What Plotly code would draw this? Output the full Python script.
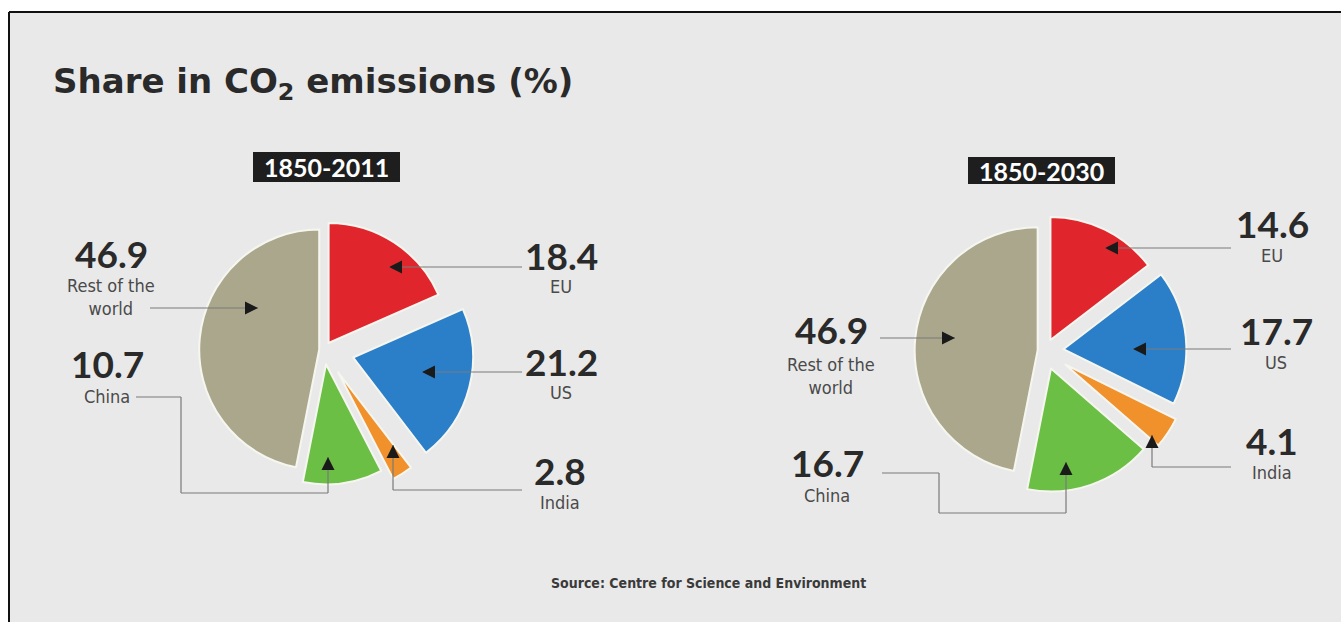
import plotly.graph_objects as go

W, H = 1341, 622

# data
regions = ['EU', 'US', 'India', 'China', 'Rest of the world']
share_1850_2011 = [18.4, 21.2, 2.8, 10.7, 46.9]
share_1850_2030 = [14.6, 17.7, 4.1, 16.7, 46.9]
periods = ['1850-2011', '1850-2030']
region_labels = ['EU', 'US', 'India', 'China', 'Rest of the<br>world']

colors = ['#e0262c', '#2b7fc9', '#f0912b', '#6cbf45', '#aba78c']
pull_2011 = [0.07, 0.25, 0.22, 0.12, 0.04]
pull_2030 = [0.10, 0.15, 0.20, 0.15, 0.06]

NUM_FONT = 'Lato, Noto Sans, sans-serif'
TITLE_FONT = 'DejaVu Sans, Noto Sans, sans-serif'
SUB_FONT = 'Liberation Sans Narrow, DejaVu Sans Condensed, Roboto, sans-serif'


def px(x):
    return x / W


def py(y):
    return 1 - y / H


def pie_domain(cx, cy, r, pulls):
    half = r * (1 + max(pulls))
    return dict(x=[px(cx - half), px(cx + half)], y=[py(cy + half), py(cy - half)])


def text(x, y, s, font, **kw):
    return dict(x=px(x), y=py(y), xref='paper', yref='paper', text=s, showarrow=False,
                xanchor=kw.pop('xanchor', 'center'), yanchor='middle', font=font, **kw)


fig = go.Figure()

for vals, pulls, (cx, cy, r) in [(share_1850_2011, pull_2011, (324, 350, 120)),
                                 (share_1850_2030, pull_2030, (1045, 351, 123))]:
    fig.add_trace(go.Pie(
        labels=regions, values=vals, sort=False, direction='clockwise', rotation=0,
        pull=pulls, textinfo='none', hoverinfo='label+value', showlegend=False,
        marker=dict(colors=colors, line=dict(color='#f6f6f0', width=2)),
        domain=pie_domain(cx, cy, r, pulls)))

shapes = [
    # grey panel with black top/left border
    dict(type='rect', xref='paper', yref='paper', x0=px(9), x1=1, y0=0, y1=py(12),
         fillcolor='#e9e9e9', line_width=0, layer='below'),
    dict(type='line', xref='paper', yref='paper', x0=px(9), x1=1, y0=py(12), y1=py(12),
         line=dict(color='#111', width=2)),
    dict(type='line', xref='paper', yref='paper', x0=px(9), x1=px(9), y0=0, y1=py(12),
         line=dict(color='#111', width=2)),
]
annotations = []

# period badges
for label, (x0, x1, y0, y1) in zip(periods, [(253, 400, 152, 182), (968, 1115, 157, 184)]):
    shapes.append(dict(type='rect', xref='paper', yref='paper', x0=px(x0), x1=px(x1),
                       y0=py(y1), y1=py(y0), fillcolor='#1e1e1e', line_width=0))
    annotations.append(text((x0 + x1) / 2, (y0 + y1) / 2, label,
                            dict(family=NUM_FONT, size=25, color='white', weight=700)))

# label anchor points (value number centre, sub-label centre) per region
label_pos = [
    [(561, 255, 287), (561, 361, 392), (560, 470, 502), (107, 363, 397), (111, 253, 297)],
    [(1272, 223, 255), (1276, 330, 362), (1272, 440, 472), (827, 462, 495), (831, 329, 376)],
]
# leader line paths, last point gets the arrow head
leaders = [
    [[(522, 267), (389, 267)],
     [(522, 372), (422, 372)],
     [(522, 490), (393, 490), (393, 445)],
     [(136, 397), (181, 397), (181, 493), (328, 493), (328, 457)],
     [(150, 308), (258, 308)]],
    [[(1231, 248), (1105, 248)],
     [(1231, 349), (1133, 349)],
     [(1231, 467), (1152, 467), (1152, 435)],
     [(882, 473), (939, 473), (939, 513), (1066, 513), (1066, 462)],
     [(880, 338), (955, 338)]],
]

for vals, positions, paths in zip([share_1850_2011, share_1850_2030], label_pos, leaders):
    for v, name, (x, yn, ys), pts in zip(vals, region_labels, positions, paths):
        annotations.append(text(x, yn, f'{v}',
                                dict(family=NUM_FONT, size=37, color='#2a2a2a', weight=700)))
        annotations.append(text(x, ys, name, dict(family=SUB_FONT, size=18, color='#4a4a4a')))
        for (xa, ya), (xb, yb) in zip(pts[:-1], pts[1:]):
            shapes.append(dict(type='line', xref='paper', yref='paper', layer='above',
                               x0=px(xa), y0=py(ya), x1=px(xb), y1=py(yb),
                               line=dict(color='#7a7a7a', width=1.2)))
        (xa, ya), (xb, yb) = pts[-2], pts[-1]
        dx, dy = xb - xa, yb - ya
        n = (dx * dx + dy * dy) ** 0.5
        annotations.append(dict(x=px(xb), y=py(yb), xref='paper', yref='paper', text='',
                                showarrow=True, arrowhead=2, arrowsize=2.0, arrowwidth=1.3,
                                arrowcolor='#1a1a1a', ax=-dx / n * 9, ay=-dy / n * 9,
                                standoff=0))

annotations.append(text(51, 84, 'Share in CO<sub>2</sub> emissions (%)',
                        dict(family=TITLE_FONT, size=34, color='#2a2a2a', weight=700),
                        xanchor='left'))
annotations.append(text(708, 583, 'Source: Centre for Science and Environment',
                        dict(family=SUB_FONT, size=14, color='#3a3a3a', weight=700)))

fig.update_layout(width=W, height=H, margin=dict(l=0, r=0, t=0, b=0),
                  paper_bgcolor='white', plot_bgcolor='white',
                  shapes=shapes, annotations=annotations)

fig.write_html('out.html', config={'displayModeBar': False},
               post_script="document.body.style.margin='0';")
